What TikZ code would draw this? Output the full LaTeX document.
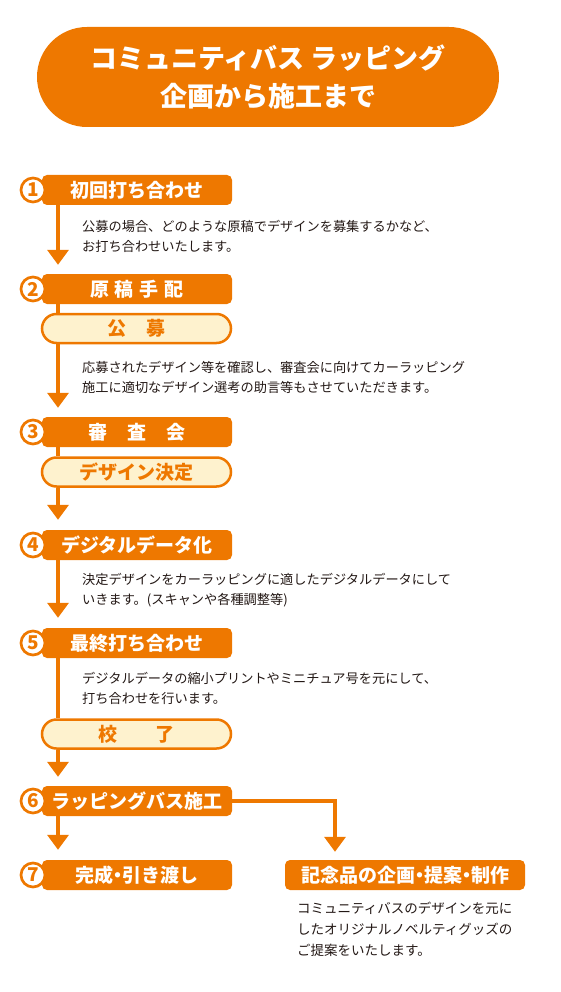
\documentclass[tikz,border=0pt]{standalone}
\usepackage{fontspec}
\setmainfont{Noto Sans CJK JP}
\usepackage{tikz}
\usetikzlibrary{arrows.meta,positioning,calc}
\definecolor{wrapOrange}{HTML}{EE7800}
\definecolor{wrapCream}{HTML}{FEF2CE}
\definecolor{bodyText}{HTML}{231815}
\newcommand{\dotsep}{\hspace{-5pt}・\hspace{-5pt}}

\begin{document}
\begin{tikzpicture}[
    x=1pt, y=-1pt,
    stage/.style={rectangle, fill=wrapOrange, text=white, minimum width=190pt,
                  minimum height=30pt, inner sep=0pt, rounded corners=5pt,
                  font=\fontsize{19}{19}\selectfont\bfseries},
    result/.style={rectangle, draw=wrapOrange, line width=2.5pt, fill=wrapCream,
                   text=wrapOrange, minimum width=189pt, minimum height=29pt,
                   inner sep=0pt, rounded corners=14.5pt,
                   font=\fontsize{19}{19}\selectfont\bfseries},
    num/.style={circle, draw=wrapOrange, line width=2.7pt, fill=white, text=wrapOrange,
                minimum size=24pt, inner sep=0pt, font=\fontsize{19}{19}\selectfont\bfseries},
    note/.style={anchor=west, align=left, text=bodyText, inner sep=0pt,
                 font=\fontsize{13.2}{20}\selectfont},
    flow/.style={draw=wrapOrange, line width=3.5pt},
    >={Triangle[width=21pt,length=15pt]}
]
\useasboundingbox (0,0) rectangle (560,992);

% --- Title ---
\node[rectangle, fill=wrapOrange, text=white, minimum width=462pt, minimum height=100pt,
      rounded corners=50pt, align=center, font=\fontsize{27}{38}\selectfont\bfseries]
  (title) at (268,77) {コミュニティバス ラッピング\\企画から施工まで};

% --- Stages on the left column ---
\node[stage]  (s1) at (137,190) {初回打ち合わせ};
\node[stage]  (s2) at (137,289) {原\hspace{6pt}稿\hspace{6pt}手\hspace{6pt}配};
\node[result] (r2) at (136.5,328.5) {公\hspace{20pt}募};
\node[stage]  (s3) at (137,432) {審\hspace{20pt}査\hspace{20pt}会};
\node[result] (r3) at (136.5,472) {デザイン決定};
\node[stage]  (s4) at (137,545) {デジタルデータ化};
\node[stage]  (s5) at (137,643) {最終打ち合わせ};
\node[result] (r5) at (136.5,734) {校\hspace{38pt}了};
\node[stage]  (s6) at (137,801) {ラッピングバス施工};
\node[stage]  (s7) at (137,875) {完成\dotsep 引き渡し};

% --- Branch on the right ---
\node[stage, minimum width=240pt] (extra) at (405,875) {記念品の企画\dotsep 提案\dotsep 制作};

% --- Step numbers ---
\node[num] (n1) at (33,190) {1};
\node[num] (n2) at (33,289) {2};
\node[num] (n3) at (33,432) {3};
\node[num] (n4) at (33,545) {4};
\node[num] (n5) at (33,643) {5};
\node[num] (n6) at (33,801) {6};
\node[num] (n7) at (33,875) {7};

% --- Connectors ---
\coordinate (spine) at (58,0);
\coordinate (branch) at (335,0);
\draw[flow,->,shorten >=9pt]  (s1.south -| spine) -- (s2.north -| spine);
\draw[flow]                   (s2.south -| spine) -- (r2.north -| spine);
\draw[flow,->,shorten >=9pt]  (r2.south -| spine) -- (s3.north -| spine);
\draw[flow]                   (s3.south -| spine) -- (r3.north -| spine);
\draw[flow,->,shorten >=10pt] (r3.south -| spine) -- (s4.north -| spine);
\draw[flow,->,shorten >=10pt] (s4.south -| spine) -- (s5.north -| spine);
\draw[flow]                   (s5.south -| spine) -- (r5.north -| spine);
\draw[flow,->,shorten >=9pt]  (r5.south -| spine) -- (s6.north -| spine);
\draw[flow,->,shorten >=10pt] (s6.south -| spine) -- (s7.north -| spine);
\draw[flow,->,shorten >=8pt]  (s6.east) -| (extra.north -| branch);

% --- Notes ---
\node[note] (t1) at (82,236)
  {公募の場合、どのような原稿でデザインを募集するかなど、\\お打ち合わせいたします。};
\node[note] (t2) at (82,377)
  {応募されたデザイン等を確認し、審査会に向けてカーラッピング\\施工に適切なデザイン選考の助言等もさせていただきます。};
\node[note] (t4) at (82,590)
  {決定デザインをカーラッピングに適したデジタルデータにして\\いきます。(スキャンや各種調整等)};
\node[note] (t5) at (82,688)
  {デジタルデータの縮小プリントやミニチュア号を元にして、\\打ち合わせを行います。};
\node[note, font=\fontsize{13.5}{21}\selectfont] (t7) at (297,929)
  {コミュニティバスのデザインを元に\\したオリジナルノベルティグッズの\\ご提案をいたします。};
\end{tikzpicture}
\end{document}
